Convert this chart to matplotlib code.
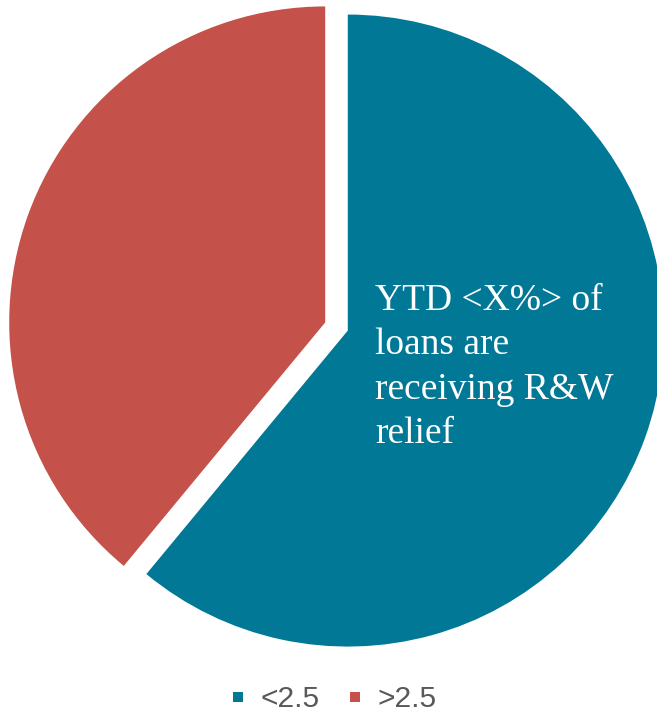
import matplotlib
matplotlib.use("Agg")
import matplotlib.pyplot as plt
from matplotlib.lines import Line2D

# data
labels = ["<2.5", ">2.5"]
shares = [61, 39]
colors = ["#007896", "#C4524A"]
note = "YTD <X%> of\nloans are\nreceiving R&W\nrelief"

W, H = 657, 712
fig = plt.figure(figsize=(W / 100, H / 100), dpi=100)
ax = fig.add_axes([0, 0, 1, 1])

# pixel coords, y measured from the bottom; explode is in data units here
ax.pie(shares, colors=colors, startangle=90, counterclock=False,
       radius=316, center=(336.5, H - 326.5), explode=[12, 12],
       wedgeprops=dict(linewidth=0))
ax.set_xlim(0, W)
ax.set_ylim(0, H)
ax.axis('off')

ax.text(375, H - 283, note, color='white', fontsize=27,
        family='Liberation Serif', ha='left', va='top', linespacing=1.38)

handles = [Line2D([], [], marker='s', linestyle='none', markersize=7.5,
                  markerfacecolor=c, markeredgewidth=0) for c in colors]
fig.legend(handles, labels, loc='center', bbox_to_anchor=(333 / W, 13 / H),
           ncol=2, frameon=False, handlelength=0.6, handletextpad=0.45,
           columnspacing=0.9, borderpad=0,
           prop=dict(family='Liberation Sans', size=21.5), labelcolor='#595959')

fig.savefig('out.png', dpi=100)
